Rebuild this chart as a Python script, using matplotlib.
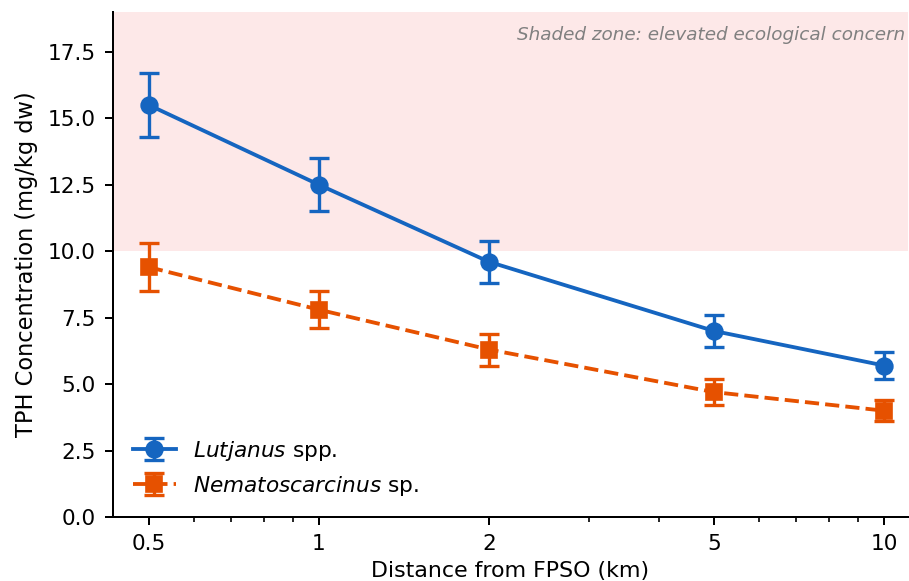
import matplotlib
matplotlib.use("Agg")
import matplotlib.pyplot as plt
from matplotlib.ticker import FixedLocator, FixedFormatter, NullFormatter, LogLocator

distance = [0.5, 1, 2, 5, 10]
xtick_labels = ["0.5", "1", "2", "5", "10"]
lutjanus = [15.5, 12.5, 9.6, 7.0, 5.7]
lutjanus_err = [1.2, 1.0, 0.8, 0.6, 0.5]
nemato = [9.4, 7.8, 6.3, 4.7, 4.0]
nemato_err = [0.9, 0.7, 0.6, 0.5, 0.4]
threshold = 10
ytop = 19

plt.rcParams["mathtext.fontset"] = "dejavusans"
DPI = 120
fig = plt.figure(figsize=(909 / DPI, 581 / DPI), dpi=DPI)
ax = fig.add_axes([113 / 909, 1 - 517 / 581, (908 - 113) / 909, (517 - 12) / 581])

ax.axhspan(threshold, ytop, color="#fde8e8", zorder=0, lw=0)
ax.errorbar(distance, lutjanus, yerr=lutjanus_err, color="#1565c0", marker="o",
            markersize=10, lw=2.3, capsize=6, capthick=2, elinewidth=2,
            label=r"$\mathit{Lutjanus}$ spp.", zorder=3)
ax.errorbar(distance, nemato, yerr=nemato_err, color="#e65100", marker="s",
            markersize=9.5, lw=2.3, ls="--", capsize=6, capthick=2, elinewidth=2,
            label=r"$\mathit{Nematoscarcinus}$ sp.", zorder=3)

ax.set_xscale("log")
ax.set_xlim(0.432, 11.03)
ax.set_ylim(0, ytop)
ax.xaxis.set_major_locator(FixedLocator(distance))
ax.xaxis.set_major_formatter(FixedFormatter(xtick_labels))
ax.xaxis.set_minor_locator(LogLocator(base=10, subs=range(2, 10)))
ax.xaxis.set_minor_formatter(NullFormatter())
ax.set_yticks([0, 2.5, 5, 7.5, 10, 12.5, 15, 17.5])
ax.tick_params(which="major", labelsize=13, length=4.8, width=1.2, pad=5.5)
ax.tick_params(which="minor", length=2.8, width=1.0)
for s in ("left", "bottom"):
    ax.spines[s].set_linewidth(1.2)
ax.spines["top"].set_visible(False)
ax.spines["right"].set_visible(False)
ax.set_xlabel("Distance from FPSO (km)", fontsize=13.3, labelpad=4)
ax.set_ylabel("TPH Concentration (mg/kg dw)", fontsize=13.5, labelpad=6)
ax.text(0.997, 0.955, "Shaded zone: elevated ecological concern", transform=ax.transAxes,
        ha="right", va="center", fontsize=11, style="italic", color="#808080")
ax.legend(loc="lower left", frameon=False, fontsize=13, bbox_to_anchor=(0.0, 0.0))

fig.savefig("out.png", dpi=DPI)
